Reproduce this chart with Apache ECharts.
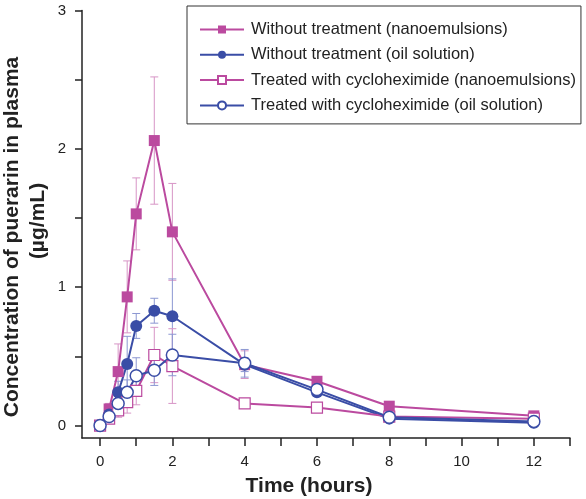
<!DOCTYPE html>
<html>
<head>
<meta charset="utf-8">
<script src="https://cdn.jsdelivr.net/npm/echarts@6/dist/echarts.min.js"></script>
<style>html,body{margin:0;padding:0;background:#fff}#c{width:586px;height:499px}</style>
</head>
<body>
<div id="c"></div>
<script>
const times = [0, 0.25, 0.5, 0.75, 1, 1.5, 2, 4, 6, 8, 12];
const names = [
  'Without treatment (nanoemulsions)',
  'Without treatment (oil solution)',
  'Treated with cycloheximide (nanoemulsions)',
  'Treated with cycloheximide (oil solution)'
];
const noTreatNano = [0, 0.12, 0.39, 0.93, 1.53, 2.06, 1.40, 0.44, 0.32, 0.14, 0.07];
const noTreatOil  = [0, 0.08, 0.24, 0.445, 0.72, 0.83, 0.79, 0.44, 0.24, 0.05, 0.02];
const cycloNano   = [0, 0.05, 0.11, 0.17, 0.25, 0.51, 0.43, 0.16, 0.13, 0.065, 0.05];
const cycloOil    = [0, 0.065, 0.16, 0.24, 0.36, 0.40, 0.51, 0.45, 0.26, 0.06, 0.03];
const sdNoTreatNano = [0, 0.04, 0.2, 0.26, 0.26, 0.46, 0.35, 0.1, 0.03, 0.03, 0.02];
const sdNoTreatOil  = [0, 0.03, 0.08, 0.2, 0.09, 0.09, 0.27, 0.05, 0.03, 0.02, 0.02];
const sdCycloNano   = [0, 0.02, 0.05, 0.08, 0.1, 0.2, 0.27, 0.03, 0.03, 0.02, 0.02];
const sdCycloOil    = [0, 0.02, 0.05, 0.09, 0.13, 0.11, 0.15, 0.1, 0.05, 0.02, 0.02];
const xTicks = [0,1,2,3,4,5,6,7,8,9,10,11,12,13];
const xLabels = [0,2,4,6,8,10,12];
const yTicks = [0,0.5,1,1.5,2,2.5,3];
const yLabels = [0,1,2,3];

const MAG = '#bb4a9f', BLUE = '#3a4da6';
const MAG_L = '#d795c6', BLUE_L = '#8c97d2';
const FONT = 'Liberation Sans, Arial, Helvetica, sans-serif';

function pts(vals){ return times.map((t,i)=>[t, vals[i]]); }
function errSeries(vals, sds, color){
  return {
    type:'custom', silent:true, z:1,
    data: times.map((t,i)=>[t, vals[i], sds[i]]),
    renderItem:function(params, api){
      const x=api.value(0), y=api.value(1), sd=api.value(2);
      if(!sd) return null;
      const top=api.coord([x,y+sd]), bot=api.coord([x,Math.max(y-sd,-0.08)]);
      const w=4, st={stroke:color, lineWidth:1};
      return {type:'group', children:[
        {type:'line', shape:{x1:top[0],y1:top[1],x2:bot[0],y2:bot[1]}, style:st},
        {type:'line', shape:{x1:top[0]-w,y1:top[1],x2:top[0]+w,y2:top[1]}, style:st},
        {type:'line', shape:{x1:bot[0]-w,y1:bot[1],x2:bot[0]+w,y2:bot[1]}, style:st}
      ]};
    }
  };
}

const chart = echarts.init(document.getElementById('c'));
chart.setOption({
  animation:false,
  backgroundColor:'#fff',
  grid:{left:82, right:16, top:10.5, bottom:61},
  xAxis:{
    type:'value', min:-0.5, max:13,
    axisLine:{onZero:false, lineStyle:{color:'#222', width:1.5}},
    axisTick:{customValues:xTicks, length:8, lineStyle:{color:'#222', width:1.5}},
    axisLabel:{customValues:xLabels, fontSize:15, color:'#222', fontFamily:FONT, margin:16},
    splitLine:{show:false}
  },
  yAxis:{
    type:'value', min:-0.09, max:3,
    axisLine:{show:true, onZero:false, lineStyle:{color:'#222', width:1.5}},
    axisTick:{show:true, customValues:yTicks, length:7, lineStyle:{color:'#222', width:1.5}},
    axisLabel:{customValues:yLabels, fontSize:15, color:'#222', fontFamily:FONT, margin:16},
    splitLine:{show:false}
  },
  legend:{
    orient:'vertical', left:187, top:6,
    data:names,
    backgroundColor:'#fff', borderColor:'#333', borderWidth:1,
    padding:[15,5,10,12], itemGap:8.3, itemWidth:44, itemHeight:10,
    textStyle:{fontSize:16.5, color:'#222', fontFamily:FONT, padding:[0,0,0,2]}
  },
  graphic:[
    {type:'text', x:12, y:237, rotation:Math.PI/2,
     style:{text:'Concentration of puerarin in plasma', font:'bold 21px '+FONT, fill:'#222', textAlign:'center', textVerticalAlign:'middle'}},
    {type:'text', x:38, y:221, rotation:Math.PI/2,
     style:{text:'(µg/mL)', font:'bold 21px '+FONT, fill:'#222', textAlign:'center', textVerticalAlign:'middle'}},
    {type:'text', x:309, y:486,
     style:{text:'Time (hours)', font:'bold 21px '+FONT, fill:'#222', textAlign:'center', textVerticalAlign:'middle'}}
  ],
  series:[
    errSeries(noTreatNano, sdNoTreatNano, MAG_L),
    errSeries(noTreatOil, sdNoTreatOil, BLUE_L),
    errSeries(cycloNano, sdCycloNano, MAG_L),
    errSeries(cycloOil, sdCycloOil, BLUE_L),
    {name:names[0], type:'line', z:3, data:pts(noTreatNano), symbol:'rect', symbolSize:11,
     lineStyle:{color:MAG, width:2}, itemStyle:{color:MAG}, emphasis:{disabled:true}},
    {name:names[1], type:'line', z:3, data:pts(noTreatOil), symbol:'circle', symbolSize:12,
     lineStyle:{color:BLUE, width:2}, itemStyle:{color:BLUE}, emphasis:{disabled:true}},
    {name:names[2], type:'line', z:3, data:pts(cycloNano), symbol:'rect', symbolSize:11, showAllSymbol:true,
     lineStyle:{color:MAG, width:2}, itemStyle:{color:'#fff', borderColor:MAG, borderWidth:1.2}, emphasis:{disabled:true}},
    {name:names[3], type:'line', z:3, data:pts(cycloOil), symbol:'circle', symbolSize:12,
     lineStyle:{color:BLUE, width:2}, itemStyle:{color:'#fff', borderColor:BLUE, borderWidth:1.5}, emphasis:{disabled:true}}
  ]
});
</script>
</body>
</html>
